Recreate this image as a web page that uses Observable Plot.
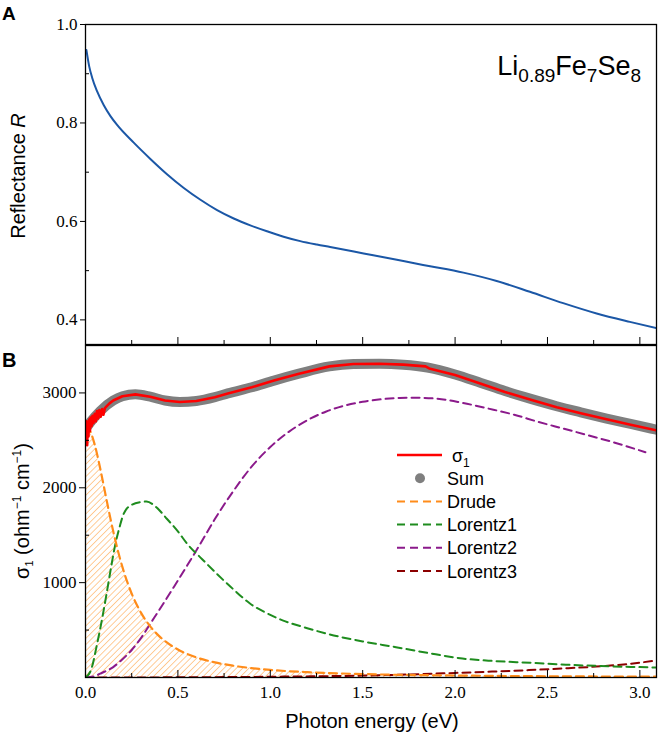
<!DOCTYPE html>
<html><head><meta charset="utf-8">
<script src="https://cdn.jsdelivr.net/npm/d3@7"></script>
<script src="https://cdn.jsdelivr.net/npm/@observablehq/plot@0.6"></script>
<style>
body{margin:0;background:#fff;color:#000;}
#chart{position:relative;width:660px;height:737px;overflow:hidden;}
#chart svg{position:absolute;left:0;display:block;overflow:visible;background:transparent;}
#chart svg g[aria-label$="tick label"], #chart svg g[aria-label$="tick label"] text{font-family:"Liberation Serif","Times New Roman",serif !important;font-size:17px !important;}
</style></head><body><div id="chart"></div>
<script>
// ---------- data ----------
const xMajorTicks = [0, 0.5, 1.0, 1.5, 2.0, 2.5, 3.0];
const xMinorTicks = [0.25, 0.75, 1.25, 1.75, 2.25, 2.75];
const rMajorTicks = [0.4, 0.6, 0.8, 1.0];
const rMinorTicks = [0.5, 0.7, 0.9];
const sMajorTicks = [1000, 2000, 3000];
const sMinorTicks = [500, 1500, 2500];

// Panel A: reflectance
const energyR = [0.005,0.02,0.036,0.063,0.099,0.135,0.171,0.261,0.351,0.441,0.532,0.622,0.712,0.802,0.892,0.982,1.072,1.162,1.252,1.324,1.505,1.685,1.78,1.865,2.045,2.225,2.405,2.585,2.766,2.946,3.095];
const reflectance = [0.948,0.915,0.892,0.864,0.836,0.814,0.796,0.760,0.727,0.696,0.668,0.644,0.623,0.606,0.592,0.580,0.569,0.560,0.553,0.548,0.535,0.522,0.515,0.509,0.496,0.479,0.457,0.434,0.413,0.396,0.383];

// Panel B: optical conductivity and fit components
const energySum = [0,0.03,0.08,0.15,0.2,0.27,0.35,0.43,0.51,0.6,0.7,0.77,0.9,1.02,1.15,1.32,1.45,1.59,1.72,1.85,2.0,2.14,2.27,2.41,2.55,2.68,2.82,2.95,3.09];
const sumValues = [2620,2700,2810,2920,2965,2985,2960,2920,2905,2915,2955,2995,3060,3130,3200,3280,3305,3308,3298,3268,3195,3105,3020,2937,2860,2796,2730,2673,2612];

const energySigma = [0.000,0.003,0.006,0.009,0.012,0.016,0.020,0.024,0.028,0.033,0.038,0.043,0.050,0.056,0.062,0.068,0.075,0.082,0.090,0.097,0.105,0.115,0.130,0.15,0.2,0.27,0.35,0.43,0.51,0.6,0.7,0.77,0.9,1.02,1.15,1.32,1.45,1.59,1.72,1.84,1.86,2.0,2.14,2.27,2.41,2.55,2.68,2.82,2.95,3.09];
const sigmaValues = [2600,2500,2700,2450,2660,2540,2720,2600,2740,2650,2760,2680,2780,2700,2810,2730,2820,2750,2830,2770,2840,2860,2890,2920,2965,2985,2960,2920,2905,2915,2955,2995,3060,3130,3200,3280,3305,3308,3298,3280,3258,3188,3097,3010,2928,2850,2786,2722,2665,2605];

const energyDrude = [0,0.02,0.05,0.08,0.10,0.12,0.15,0.18,0.20,0.25,0.30,0.35,0.40,0.50,0.60,0.70,0.80,1.0,1.2,1.5,2.0,2.5,3.09];
const drudeValues = [2650,2617,2454,2200,2008,1815,1542,1302,1163,884,684,539,434,295,212,159,124,80,56,36,21,13,9];

const energyL1 = [0,0.03,0.063,0.09,0.117,0.14,0.162,0.185,0.207,0.25,0.30,0.33,0.38,0.44,0.50,0.55,0.63,0.71,0.80,0.89,1.0,1.07,1.2,1.32,1.5,1.68,1.85,2.04,2.2,2.41,2.6,2.77,2.95,3.09];
const lorentz1Values = [0,80,356,620,917,1180,1410,1590,1728,1820,1850,1855,1800,1674,1540,1410,1250,1094,930,780,660,600,520,455,380,320,260,200,175,155,135,122,112,105];

const energyL2 = [0,0.05,0.09,0.15,0.19,0.25,0.30,0.35,0.42,0.48,0.55,0.62,0.70,0.80,0.90,1.00,1.10,1.20,1.30,1.40,1.50,1.60,1.70,1.77,1.90,2.04,2.18,2.32,2.45,2.59,2.72,2.86,3.03];
const lorentz2Values = [0,15,50,110,175,290,415,565,775,960,1180,1405,1670,1965,2225,2430,2590,2712,2802,2865,2906,2933,2947,2950,2940,2895,2835,2770,2695,2622,2553,2478,2375];

const energyL3 = [0,0.5,1.0,1.5,1.8,2.0,2.2,2.4,2.6,2.8,2.95,3.09];
const lorentz3Values = [0,2,8,20,35,48,62,78,97,120,145,180];

const legendLabels = ["σ1", "Sum", "Drude", "Lorentz1", "Lorentz2", "Lorentz3"];

// ---------- helpers ----------
const zip = (xs, ys) => xs.map((x, i) => ({x, y: ys[i]}));
const xDomain = [0, 3.09];
const serif = "Liberation Serif, Times New Roman, serif";
const sans = "Liberation Sans, Arial, sans-serif";
const C = {blue:"#1b57a6", red:"#ff0000", gray:"#7f7f7f", orange:"#ff8c1a", green:"#1e8c1e", purple:"#8b1a8b", dred:"#8b0000"};
const tickText = {fontFamily: serif, fontSize: 17};

const chart = document.getElementById("chart");

// ---------- Panel A ----------
const plotA = Plot.plot({
  width: 660, height: 346,
  marginLeft: 85, marginRight: 4, marginTop: 24, marginBottom: 2,
  x: {domain: xDomain},
  y: {domain: [0.35, 1.0]},
  marks: [
    Plot.line(zip(energyR, reflectance), {x: "x", y: "y", stroke: C.blue, strokeWidth: 2, curve: "monotone-x", clip: true}),
    Plot.frame({stroke: "#000", strokeWidth: 1.3}),
    Plot.axisY({ticks: rMajorTicks, tickSize: 5, tickPadding: 3, tickFormat: d3.format(".1f"), label: null, ...tickText}),
    Plot.axisY({ticks: rMinorTicks, tickSize: -4, text: null, label: null}),
    Plot.axisX({ticks: xMajorTicks, tickSize: -7, text: null, label: null}),
    Plot.axisX({ticks: xMinorTicks, tickSize: -4, text: null, label: null})
  ]
});
plotA.style.top = "0px";
chart.appendChild(plotA);

// ---------- Panel B ----------
const plotB = Plot.plot({
  width: 660, height: 393,
  marginLeft: 85, marginRight: 4, marginTop: 1, marginBottom: 60,
  x: {domain: xDomain},
  y: {domain: [0, 3500]},
  marks: [
    Plot.areaY(zip(energyDrude, drudeValues), {x: "x", y: "y", fill: "url(#drudeHatch)", curve: "monotone-x", clip: true}),
    Plot.line(zip(energyL3, lorentz3Values), {x: "x", y: "y", stroke: C.dred, strokeWidth: 2, strokeDasharray: "8,5", curve: "monotone-x", clip: true}),
    Plot.line(zip(energyL2, lorentz2Values), {x: "x", y: "y", stroke: C.purple, strokeWidth: 2, strokeDasharray: "8,5", curve: "monotone-x", clip: true}),
    Plot.line(zip(energyL1, lorentz1Values), {x: "x", y: "y", stroke: C.green, strokeWidth: 2, strokeDasharray: "8,5", curve: "monotone-x", clip: true}),
    Plot.line(zip(energyDrude, drudeValues), {x: "x", y: "y", stroke: C.orange, strokeWidth: 2.2, strokeDasharray: "8,5", curve: "monotone-x", clip: true}),
    Plot.line(zip(energySum, sumValues), {x: "x", y: "y", stroke: C.gray, strokeWidth: 10, strokeLinecap: "round", curve: "monotone-x", clip: true}),
    Plot.line(zip(energySigma, sigmaValues), {x: "x", y: "y", stroke: C.red, strokeWidth: 2.6, curve: "linear", clip: true}),
    Plot.frame({stroke: "#000", strokeWidth: 1.3}),
    Plot.axisY({ticks: sMajorTicks, tickSize: 6, tickPadding: 3, tickFormat: d => String(d), label: null, ...tickText}),
    Plot.axisY({ticks: sMinorTicks, tickSize: -4, text: null, label: null}),
    Plot.axisX({ticks: xMajorTicks, tickSize: -7, text: null, label: null}),
    Plot.axisX({ticks: xMinorTicks, tickSize: -4, text: null, label: null}),
    Plot.axisX({ticks: xMajorTicks, tickSize: 0, tickPadding: 8, tickFormat: d3.format(".1f"), label: null, ...tickText})
  ]
});
plotB.style.top = "344px";
chart.appendChild(plotB);

// make sure tick labels use the serif face
d3.selectAll("#chart g[aria-label$='tick label'] text")
  .style("font-family", "'Liberation Serif', 'Times New Roman', serif")
  .style("font-size", "17px");

// hatch pattern for the Drude area
const defs = d3.select(plotB).insert("defs", ":first-child");
const pat = defs.append("pattern").attr("id", "drudeHatch").attr("patternUnits", "userSpaceOnUse")
  .attr("width", 4.4).attr("height", 4.4).attr("patternTransform", "rotate(45)");
pat.append("line").attr("x1", 0).attr("y1", 0).attr("x2", 0).attr("y2", 4.4)
  .attr("stroke", "#ff9a33").attr("stroke-width", 1);

// ---------- text annotations ----------
const sA = d3.select(plotA);
sA.append("text").attr("x", 2).attr("y", 20).attr("text-anchor", "start").attr("font-family", sans).attr("font-weight", "bold").attr("font-size", 19).text("A");
const yLabA = sA.append("text").attr("transform", "translate(25,176) rotate(-90)").attr("text-anchor", "middle")
  .attr("font-family", sans).attr("font-size", 20);
yLabA.append("tspan").text("Reflectance ");
yLabA.append("tspan").attr("font-style", "italic").text("R");

const formula = sA.append("text").attr("x", 641).attr("y", 75).attr("text-anchor", "end").attr("font-family", sans).attr("font-size", 27);
formula.append("tspan").text("Li");
formula.append("tspan").attr("font-size", 19).attr("dy", 7).text("0.89");
formula.append("tspan").attr("dy", -7).text("Fe");
formula.append("tspan").attr("font-size", 19).attr("dy", 7).text("7");
formula.append("tspan").attr("dy", -7).text("Se");
formula.append("tspan").attr("font-size", 19).attr("dy", 7).text("8");

const sB = d3.select(plotB);
sB.append("text").attr("x", 2).attr("y", 23).attr("text-anchor", "start").attr("font-family", sans).attr("font-weight", "bold").attr("font-size", 20).text("B");
sB.append("text").attr("x", 372).attr("y", 384).attr("text-anchor", "middle").attr("font-family", sans).attr("font-size", 20).text("Photon energy (eV)");
const yLabB = sB.append("text").attr("transform", "translate(29,167) rotate(-90)").attr("text-anchor", "middle")
  .attr("font-family", sans).attr("font-size", 20);
yLabB.append("tspan").text("σ");
yLabB.append("tspan").attr("font-size", 11).attr("dy", 4).text("1");
yLabB.append("tspan").attr("dy", -4).text(" (ohm");
yLabB.append("tspan").attr("font-size", 12).attr("dy", -8).text("−1");
yLabB.append("tspan").attr("dy", 8).text(" cm");
yLabB.append("tspan").attr("font-size", 12).attr("dy", -8).text("−1");
yLabB.append("tspan").attr("dy", 8).text(")");

// legend
const legColors = [C.red, C.gray, C.orange, C.green, C.purple, C.dred];
const lg = sB.append("g").attr("font-family", sans).attr("font-size", 18).attr("text-anchor", "start");
legendLabels.forEach((lab, i) => {
  const y = 111 + i * 23.2;
  if (i === 0) {
    lg.append("line").attr("x1", 397).attr("x2", 442).attr("y1", y).attr("y2", y).attr("stroke", legColors[i]).attr("stroke-width", 2.6);
  } else if (i === 1) {
    lg.append("circle").attr("cx", 420).attr("cy", y).attr("r", 5).attr("fill", legColors[i]);
  } else {
    lg.append("line").attr("x1", 397).attr("x2", 442).attr("y1", y).attr("y2", y).attr("stroke", legColors[i]).attr("stroke-width", 2).attr("stroke-dasharray", "8,5");
  }
  const t = lg.append("text").attr("x", i === 0 ? 452 : 447).attr("y", y + 6.5);
  if (i === 0) {
    t.append("tspan").text("σ");
    t.append("tspan").attr("font-size", 12).attr("dy", 5).text("1");
  } else t.text(lab);
});
</script></body></html>
